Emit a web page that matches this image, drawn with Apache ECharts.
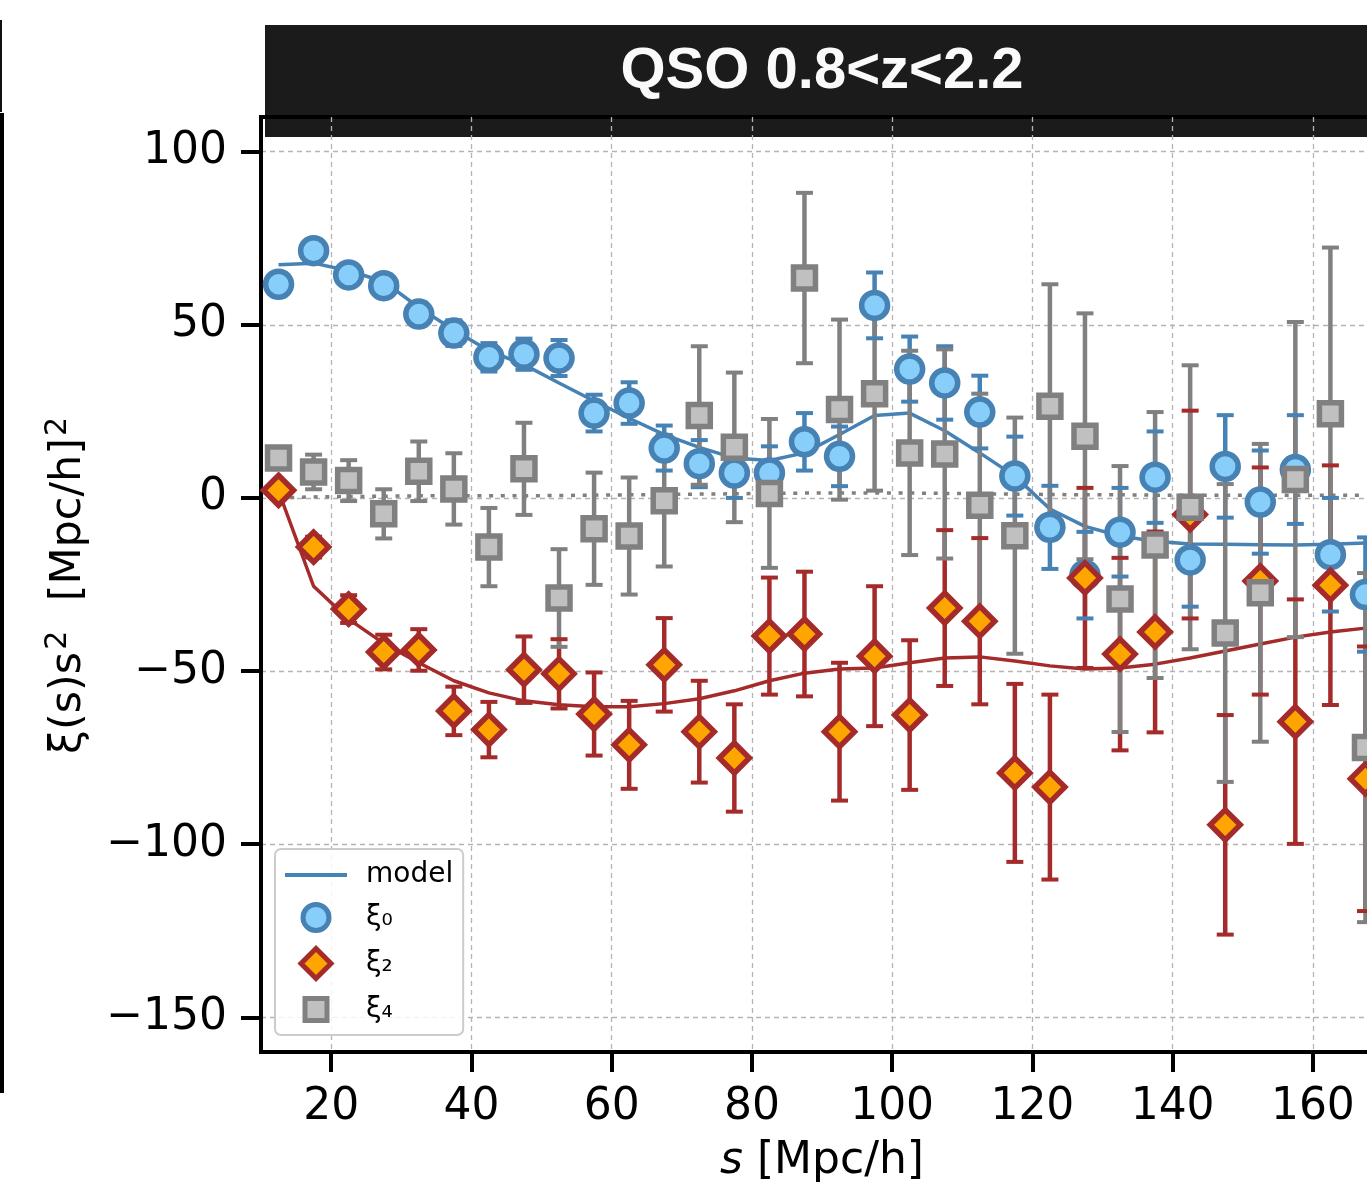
<!DOCTYPE html>
<html><head><meta charset="utf-8">
<script src="https://cdn.jsdelivr.net/npm/echarts@6/dist/echarts.min.js"></script>
<style>html,body{margin:0;padding:0;background:#fff}#c{width:1367px;height:1186px}</style>
</head><body><div id="c"></div>
<script>
// ---- data ----
const s = [12.5,17.5,22.5,27.5,32.5,37.5,42.5,47.5,52.5,57.5,62.5,67.5,72.5,77.5,82.5,87.5,92.5,97.5,102.5,107.5,112.5,117.5,122.5,127.5,132.5,137.5,142.5,147.5,152.5,157.5,162.5,167.5];
const xi0 = [61.7,71.4,64.4,61.3,53.1,47.6,40.6,41.5,40.4,24.5,27.4,14.4,9.9,7.2,7.2,16.2,12.0,55.6,37.2,33.2,24.8,6.3,-8.5,-22.3,-9.9,6.0,-17.9,9.1,-1.2,8.2,-16.4,-27.9];
const xi0Err = [2.3,2.5,2.8,3.0,3.3,3.7,4.1,4.5,5.2,5.3,6.0,6.5,6.8,7.2,7.7,8.3,8.6,9.5,9.4,10.6,10.5,11.4,12.0,12.5,12.8,13.2,13.5,14.8,14.9,15.7,16.4,16.5];
const xi2 = [2.2,-14.2,-32.1,-44.5,-43.9,-61.5,-66.9,-49.6,-50.8,-62.4,-71.3,-48.2,-67.5,-75.1,-39.9,-39.3,-67.5,-45.7,-62.7,-31.8,-35.6,-79.4,-83.5,-23.1,-45.1,-38.7,-4.8,-94.4,-24.0,-64.6,-25.2,-81.1];
const xi2Err = [2.0,3.0,4.0,5.0,6.0,7.0,8.0,9.6,10.0,12.0,12.7,13.5,14.7,15.5,16.9,18.0,19.9,20.2,21.6,22.5,24.0,25.7,26.7,26.0,27.8,29.0,30.0,31.7,32.8,35.3,34.6,38.2];
const xi4 = [11.5,7.5,5.0,-4.6,7.7,2.6,-14.2,8.4,-28.9,-8.9,-11.0,-0.8,23.8,14.6,1.3,63.5,25.5,30.1,13.0,12.7,-2.1,-10.9,26.5,17.8,-29.2,-13.6,-2.7,-39.0,-27.4,5.3,24.3,-72.1];
const xi4Err = [3.0,5.0,5.9,7.1,8.6,10.3,11.3,13.3,14.1,16.2,16.9,19.0,20.0,21.6,21.5,24.6,26.0,28.0,29.5,30.2,32.2,34.1,35.2,35.5,38.4,38.4,41.0,43.0,43.0,45.5,48.0,50.4];
const model0 = [67.3,67.8,65.6,62.5,55.0,48.5,42.5,38.5,33.2,28.0,23.0,18.3,14.6,11.5,10.8,13.0,18.3,23.8,24.5,19.4,13.0,6.3,-3.2,-8.2,-11.0,-12.5,-13.3,-13.4,-13.5,-13.6,-13.4,-13.0];
const model2 = [2.0,-25.5,-35.0,-42.0,-47.6,-52.8,-56.3,-58.6,-59.7,-60.3,-60.3,-59.4,-58.0,-55.7,-52.8,-50.6,-49.4,-49.1,-47.6,-46.2,-45.9,-47.1,-48.5,-49.4,-49.1,-48.0,-46.2,-44.2,-42.2,-40.2,-38.7,-37.6];
const model4 = [0.0,0.3,0.4,0.5,0.6,0.6,0.6,0.6,0.7,0.8,0.9,1.0,1.1,1.2,1.3,1.4,1.4,1.4,1.4,1.3,1.2,1.1,1.0,0.9,0.9,0.8,0.8,0.8,0.8,0.8,0.8,0.8];
const xTicks = [20,40,60,80,100,120,140,160];
const yTicks = [-150,-100,-50,0,50,100];
const titleText = 'QSO 0.8<z<2.2';

// ---- styles ----
const BLUE = '#4682b4', BLUE_F = '#87cefa';
const RED = '#a52a2a', RED_F = '#ffa500';
const GREY = '#808080', GREY_F = '#c0c0c0';
const FONT = '"DejaVu Sans", sans-serif';

const pts = v => s.map((x, i) => [x, v[i]]);
const errData = (v, e) => s.map((x, i) => [x, v[i] - e[i], v[i] + e[i]]);

function barSeries(v, e, color, z) {
  return {
    type: 'custom', z, silent: true, data: errData(v, e), encode: {x: 0, y: [1, 2]},
    renderItem(params, api) {
      const x = api.value(0);
      const lo = api.coord([x, api.value(1)]), hi = api.coord([x, api.value(2)]);
      return {type: 'line', shape: {x1: lo[0], y1: lo[1], x2: hi[0], y2: hi[1]},
        style: {stroke: color, lineWidth: 4.5}};
    }
  };
}
function capSeries(v, e, color, z) {
  return {
    type: 'custom', z, silent: true, data: errData(v, e), encode: {x: 0, y: [1, 2]},
    renderItem(params, api) {
      const x = api.value(0);
      const lo = api.coord([x, api.value(1)]), hi = api.coord([x, api.value(2)]);
      const w = 8.5;
      return {type: 'group', children: [
        {type: 'line', shape: {x1: lo[0] - w, y1: lo[1], x2: lo[0] + w, y2: lo[1]}, style: {stroke: color, lineWidth: 4}},
        {type: 'line', shape: {x1: hi[0] - w, y1: hi[1], x2: hi[0] + w, y2: hi[1]}, style: {stroke: color, lineWidth: 4}}
      ]};
    }
  };
}

const axisCommon = {
  type: 'value',
  axisLine: {show: true, onZero: false, lineStyle: {color: '#000', width: 4}},
  splitLine: {show: true, lineStyle: {color: '#b4b4b4', width: 1.3, type: [5, 4]}},
  nameTextStyle: {fontFamily: FONT, fontSize: 44, color: '#000'}
};

// legend icons (30x30 boxes; invisible zero-length segments fix the box)
const ICON_CIRCLE = 'path://M2,15A13,13 0 1,1 28,15A13,13 0 1,1 2,15Z M0,0L0,0 M30,30L30,30';
const ICON_DIAMOND = 'path://M15,0L30,15L15,30L0,15Z';
const ICON_SQUARE = 'path://M4,4h22v22h-22z M0,0L0,0 M30,30L30,30';

const option = {
  animation: false,
  backgroundColor: '#fff',
  grid: {left: 261, top: 117, right: -16, bottom: 134, outerBoundsMode: 'none', containLabel: false,
    show: true, borderColor: '#000', borderWidth: 4, backgroundColor: 'transparent'},
  xAxis: Object.assign({}, axisCommon, {
    min: 10, max: 170,
    axisTick: {show: true, length: 20, lineStyle: {color: '#000', width: 4}, customValues: xTicks},
    axisLabel: {customValues: xTicks, margin: 34, fontFamily: FONT, fontSize: 44, color: '#000'},
    name: '{i|s} [Mpc/h]', nameLocation: 'middle', nameGap: 88,
    nameTextStyle: {fontFamily: FONT, fontSize: 44, color: '#000',
      rich: {i: {fontStyle: 'italic', fontFamily: FONT, fontSize: 44, color: '#000'}}}
  }),
  yAxis: Object.assign({}, axisCommon, {
    min: -160, max: 110,
    axisTick: {show: true, length: 20, lineStyle: {color: '#000', width: 4}, customValues: yTicks},
    axisLabel: {customValues: yTicks, margin: 34, fontFamily: FONT, fontSize: 44, color: '#000',
      formatter: v => v < 0 ? '\u2212' + Math.abs(v) : String(v)},
    name: '{n|ξ(s)s}{sup|2}{n|  [Mpc/h]}{sup|2}', nameLocation: 'middle', nameGap: 160,
    nameTextStyle: {fontFamily: FONT, fontSize: 43, color: '#000',
      rich: {
        n: {fontFamily: FONT, fontSize: 43, color: '#000', lineHeight: 50},
        sup: {fontFamily: FONT, fontSize: 30, color: '#000', lineHeight: 50, padding: [0, 2, 22, 2]}
      }}
  }),
  legend: {
    orient: 'vertical', left: 275, top: 849, padding: [12, 10, 8, 10],
    itemWidth: 62, itemHeight: 30, itemGap: 11,
    backgroundColor: 'rgba(255,255,255,0.85)', borderColor: '#cccccc', borderWidth: 2, borderRadius: 6,
    textStyle: {fontFamily: FONT, fontSize: 28, color: '#000', lineHeight: 26, padding: [0, 0, 0, 14]},
    selectedMode: false,
    data: [
      {name: 'model', icon: 'path://M0,0h62v4h-62z', itemStyle: {color: BLUE, borderWidth: 0}},
      {name: 'ξ₀', icon: ICON_CIRCLE, itemStyle: {color: BLUE_F, borderColor: BLUE, borderWidth: 5}},
      {name: 'ξ₂', icon: ICON_DIAMOND, itemStyle: {color: RED_F, borderColor: RED, borderWidth: 5, borderJoin: 'miter'}},
      {name: 'ξ₄', icon: ICON_SQUARE, itemStyle: {color: GREY_F, borderColor: GREY, borderWidth: 5, borderJoin: 'miter'}}
    ]
  },
  graphic: [
    {type: 'rect', z: -1, silent: true, shape: {x: 265, y: 25, width: 1115, height: 112}, style: {fill: '#1b1b1b'}},
    {type: 'text', z: 100, silent: true, x: 822, y: 72,
      style: {text: titleText, fill: '#fafafa', fontFamily: '"Liberation Sans", Arial, sans-serif', fontWeight: 'bold', fontSize: 58,
        align: 'center', verticalAlign: 'middle', textAlign: 'center', textVerticalAlign: 'middle'}},
    {type: 'rect', silent: true, shape: {x: 0, y: 20, width: 2, height: 92}, style: {fill: '#111'}},
    {type: 'rect', silent: true, shape: {x: 0, y: 113, width: 4, height: 980}, style: {fill: '#000'}}
  ],
  series: [
    {type: 'line', name: 'model', z: 2, silent: true, data: pts(model0), showSymbol: false,
      lineStyle: {color: BLUE, width: 3.5}, itemStyle: {color: BLUE}},
    {type: 'line', name: 'model ξ2', z: 2, silent: true, data: pts(model2), showSymbol: false,
      lineStyle: {color: RED, width: 3.5}, itemStyle: {color: RED}},
    {type: 'line', name: 'model ξ4', z: 2, silent: true, data: pts(model4), showSymbol: false,
      lineStyle: {color: GREY, width: 3.5, type: [4, 7.7]}, itemStyle: {color: GREY}},
    barSeries(xi0, xi0Err, BLUE, 3),
    barSeries(xi2, xi2Err, RED, 4),
    barSeries(xi4, xi4Err, GREY, 5),
    capSeries(xi0, xi0Err, BLUE, 6),
    capSeries(xi2, xi2Err, RED, 6),
    capSeries(xi4, xi4Err, GREY, 6),
    {type: 'scatter', name: 'ξ₀', z: 7, silent: true, data: pts(xi0), symbol: 'circle', symbolSize: 26,
      itemStyle: {color: BLUE_F, borderColor: BLUE, borderWidth: 5.5, opacity: 1}},
    {type: 'scatter', name: 'ξ₂', z: 8, silent: true, data: pts(xi2), symbol: 'diamond', symbolSize: 30,
      itemStyle: {color: RED_F, borderColor: RED, borderWidth: 5.5, borderJoin: 'miter', opacity: 1}},
    {type: 'scatter', name: 'ξ₄', z: 9, silent: true, data: pts(xi4), symbol: 'rect', symbolSize: 22,
      itemStyle: {color: GREY_F, borderColor: GREY, borderWidth: 5.5, borderJoin: 'miter', opacity: 1}}
  ]
};
const chart = echarts.init(document.getElementById('c'));
chart.setOption(option);
</script></body></html>
